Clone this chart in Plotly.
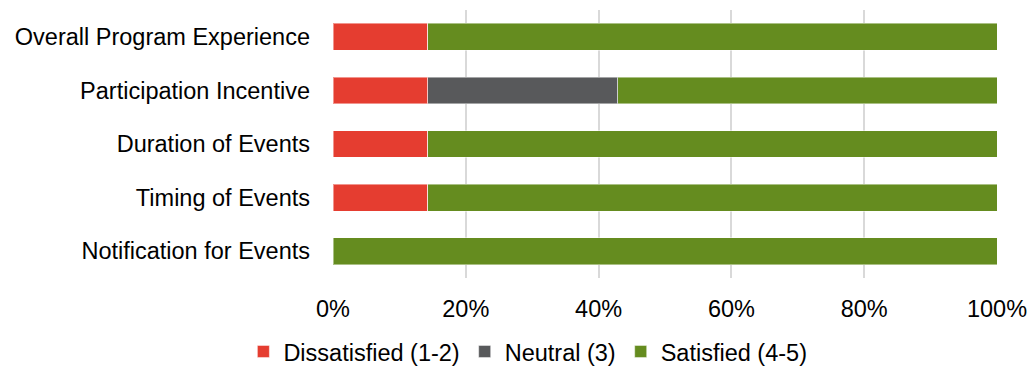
import plotly.graph_objects as go

categories = ["Overall Program Experience", "Participation Incentive", "Duration of Events",
              "Timing of Events", "Notification for Events"]
dissatisfied = [14.29, 14.29, 14.29, 14.29, 0.0]
neutral = [0.0, 28.57, 0.0, 0.0, 0.0]
satisfied = [85.71, 57.14, 85.71, 85.71, 100.0]
tick_vals = [0, 20, 40, 60, 80, 100]
tick_text = ["0%", "20%", "40%", "60%", "80%", "100%"]

series = [
    ("Dissatisfied (1-2)", dissatisfied, "#E53D30"),
    ("Neutral (3)", neutral, "#58595B"),
    ("Satisfied (4-5)", satisfied, "#658C1F"),
]

fig = go.Figure()
for name, vals, color in series:
    fig.add_trace(go.Bar(
        y=categories, x=vals, name=name, orientation="h",
        marker=dict(color=color, line=dict(color="rgba(255,255,255,0.45)", width=1)),
    ))

FS = 23.5
fig.update_layout(
    barmode="stack",
    bargap=0.5,
    width=1029, height=368,
    margin=dict(l=333, r=32, t=10, b=90, autoexpand=False),
    paper_bgcolor="white", plot_bgcolor="white",
    font=dict(family="Liberation Sans, Arial, sans-serif", size=FS, color="#000000"),
    showlegend=True,
    legend=dict(orientation="h", xref="container", x=0.513, xanchor="center",
                yref="paper", y=-0.275, yanchor="middle",
                font=dict(size=FS), itemwidth=30, traceorder="normal",
                bgcolor="rgba(0,0,0,0)"),
    xaxis=dict(range=[0, 100], tickvals=tick_vals, ticktext=tick_text,
               showgrid=True, gridcolor="#D9D9D9", gridwidth=1.5, automargin=False,
               zeroline=False, showline=False, ticks="", ticklabelstandoff=14),
    yaxis=dict(categoryorder="array", categoryarray=categories, autorange="reversed",
               showgrid=False, showline=False, ticks="", ticklabelstandoff=22, automargin=False),
)

fig.write_html("out.html")
